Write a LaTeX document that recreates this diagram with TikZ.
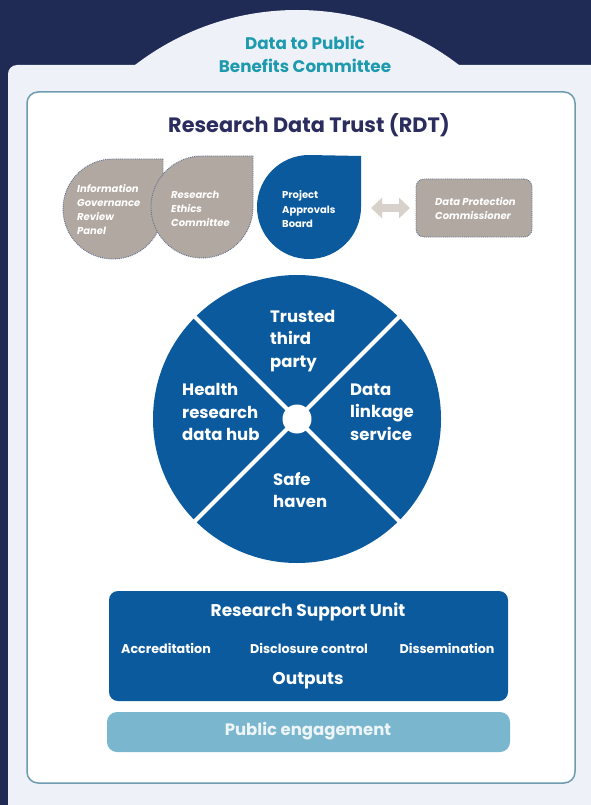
\documentclass[tikz,border=0pt]{standalone}
\usepackage{fontspec}
\setmainfont{Poppins}
\usetikzlibrary{arrows.meta}
\definecolor{navy}{HTML}{1F2A55}
\definecolor{panel}{HTML}{EEF2F8}
\definecolor{framec}{HTML}{6E9BAF}
\definecolor{tealc}{HTML}{1E9AAE}
\definecolor{titlec}{HTML}{2A2D5E}
\definecolor{bluec}{HTML}{0C5A9E}
\definecolor{stone}{HTML}{B1A8A1}
\definecolor{dotc}{HTML}{5E7190}
\definecolor{arrowc}{HTML}{D8D0CB}
\definecolor{palec}{HTML}{7AB6CD}
\definecolor{palet}{HTML}{EDF5F8}
\begin{document}
\begin{tikzpicture}[x=1pt,y=-1pt,
  graydrop/.style={fill=stone,draw=dotc,line width=0.9pt,densely dotted},
  bluedrop/.style={fill=bluec},
  graytxt/.style={text=white,align=left,anchor=west,inner sep=0pt,font=\fontsize{10}{14}\selectfont\bfseries\itshape},
  bluetxt/.style={text=white,align=left,anchor=west,inner sep=0pt,font=\fontsize{10}{14.5}\selectfont\bfseries},
  wheeltxt/.style={text=white,align=left,anchor=west,inner sep=0pt,font=\fontsize{16.5}{22.5}\selectfont\bfseries},
  bigtxt/.style={text=white,inner sep=0pt,font=\fontsize{17}{20}\selectfont\bfseries},
  smalltxt/.style={text=white,inner sep=0pt,font=\fontsize{12.7}{15}\selectfont\bfseries}]
\useasboundingbox (0,0) rectangle (591,805);
\fill[navy] (0,0) rectangle (591,805);
% outer panel with arch
\fill[panel, rounded corners=9] (8,830) -- (8,65) -- (620,65) -- (620,830) -- cycle;
\fill[panel] (297,276) circle[radius=266];
\node[text=tealc,align=center,font=\fontsize{16.8}{23}\selectfont\bfseries] (dpbc) at (305,54.5) {Data to Public\\Benefits Committee};
% inner frame
\draw[framec, line width=1.5pt, fill=white, rounded corners=11] (27,92) rectangle (575,783);
\node[text=titlec,font=\fontsize{20.8}{24}\selectfont\bfseries] (rdt) at (309,125) {Research Data Trust (RDT)};
% drops
\path[graydrop] (163,159) -- (163,209) arc[start angle=0,end angle=270,radius=50] -- cycle;
\path[graydrop] (253,156) -- (253,207) arc[start angle=0,end angle=270,radius=51] -- cycle;
\path[bluedrop] (361,156) -- (361,207) arc[start angle=0,end angle=270,radius=52] -- cycle;
\node[graytxt] (igrp) at (77,210) {Information\\Governance\\Review\\Panel};
\node[graytxt] (rec) at (171,209) {Research\\Ethics\\Committee};
\node[bluetxt] (pab) at (282,209.5) {Project\\Approvals\\Board};
% data protection commissioner
\node[fill=stone,draw=dotc,line width=0.9pt,densely dotted,rounded corners=8,minimum width=116pt,minimum height=58pt,inner sep=0pt] (dpcbox) at (474,208) {};
\node[graytxt] (dpc) at (435,209) {Data Protection\\Commissioner};
\coordinate (arl) at (371,208);
\coordinate (arr) at (410,208);
\draw[arrowc,line width=7.5pt,{Triangle[width=20pt,length=11pt]}-{Triangle[width=20pt,length=11pt]}] (arl) -- (arr);
% wheel
\coordinate (c) at (297,419);
\fill[bluec] (c) circle[radius=144];
\draw[white,line width=4pt] (c) ++(45:146) -- ++(225:292);
\draw[white,line width=4pt] (c) ++(135:146) -- ++(315:292);
\fill[white] (c) circle[radius=14.5];
\node[wheeltxt] (ttp) at (270,341) {Trusted\\third\\party};
\node[wheeltxt] (hrdh) at (182,412) {Health\\research\\data hub};
\node[wheeltxt] (dls) at (350,412) {Data\\linkage\\service};
\node[wheeltxt] (sh) at (273,490) {Safe\\haven};
% research support unit
\fill[bluec, rounded corners=9] (109,591) rectangle (508,701);
\node[bigtxt] (rsu) at (308,612) {Research Support Unit};
\node[smalltxt] (acc) at (166,648) {Accreditation};
\node[smalltxt] (dc) at (309,648) {Disclosure control};
\node[smalltxt] (dis) at (447,648) {Dissemination};
\node[bigtxt] (out) at (308,681) {Outputs};
% public engagement
\fill[palec, rounded corners=10] (107,712) rectangle (510,752);
\node[bigtxt,text=palet,font=\fontsize{16.5}{20}\selectfont\bfseries] (pe) at (308,731.5) {Public engagement};
\end{tikzpicture}
\end{document}
